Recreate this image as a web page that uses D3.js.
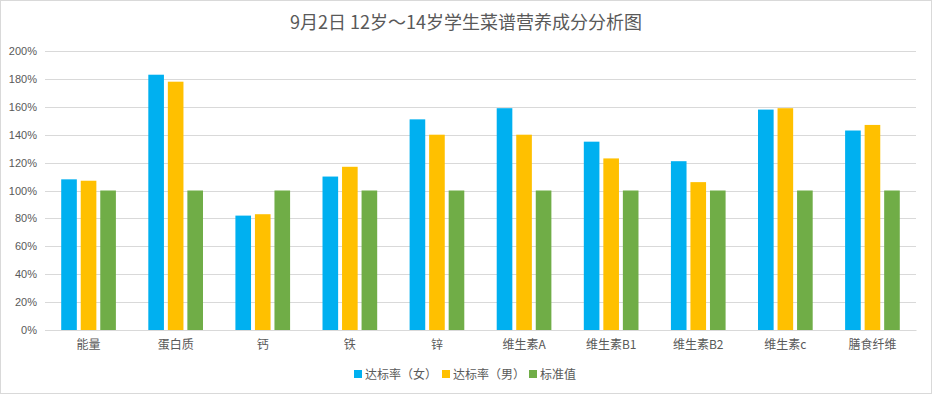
<!DOCTYPE html>
<html>
<head>
<meta charset="utf-8">
<title>9月2日 12岁～14岁学生菜谱营养成分分析图</title>
<script src="https://cdn.jsdelivr.net/npm/d3@7"></script>
<style>
  body { margin: 0; background: #fff; }
  svg { display: block; font-family: "Noto Sans CJK SC", "Noto Sans", sans-serif; }
</style>
</head>
<body>
<svg id="chart" width="932" height="394"></svg>
<script>
// 数据
var categories = ["能量", "蛋白质", "钙", "铁", "锌", "维生素A", "维生素B1", "维生素B2", "维生素c", "膳食纤维"];
var seriesNames = ["达标率（女）", "达标率（男）", "标准值"];
var female = [1.08, 1.83, 0.82, 1.10, 1.51, 1.59, 1.35, 1.21, 1.58, 1.43];
var male = [1.07, 1.78, 0.83, 1.17, 1.40, 1.40, 1.23, 1.06, 1.59, 1.47];
var standard = [1, 1, 1, 1, 1, 1, 1, 1, 1, 1];
var yTicks = [0, 0.2, 0.4, 0.6, 0.8, 1.0, 1.2, 1.4, 1.6, 1.8, 2.0];
var colors = ["#00B0F0", "#FFC000", "#70AD47"];

var svg = d3.select("#chart"),
    width = +svg.attr("width"),
    height = +svg.attr("height");

var margin = {left: 45, right: 16, top: 51, bottom: 64};

// 外框
svg.append("rect")
    .attr("x", 0.5).attr("y", 0.5)
    .attr("width", width - 1).attr("height", height - 1)
    .attr("fill", "#fff").attr("stroke", "#d9d9d9");

// 标题
svg.append("text")
    .attr("x", 466).attr("y", 29)
    .attr("text-anchor", "middle")
    .attr("font-size", 18)
    .attr("fill", "#595959")
    .text("9月2日 12岁～14岁学生菜谱营养成分分析图");

var x = d3.scaleBand()
    .domain(categories)
    .range([margin.left, width - margin.right]);

var x1 = d3.scaleBand()
    .domain([0, 1, 2])
    .range([0, x.bandwidth()])
    .paddingInner(0.2)
    .paddingOuter(0.83);

var y = d3.scaleLinear()
    .domain([0, 2])
    .range([height - margin.bottom, margin.top]);

// 网格线
svg.append("g")
    .selectAll("line")
    .data(yTicks)
    .enter().append("line")
    .attr("x1", margin.left).attr("x2", width - margin.right)
    .attr("y1", function(d) { return Math.round(y(d)) + 0.5; })
    .attr("y2", function(d) { return Math.round(y(d)) + 0.5; })
    .attr("stroke", "#d9d9d9").attr("stroke-width", 1);

// y 轴标签
var yAxis = svg.append("g")
    .attr("transform", "translate(" + margin.left + ",0)")
    .call(d3.axisLeft(y).tickValues(yTicks).tickSize(0).tickPadding(8)
        .tickFormat(function(d) { return Math.round(d * 100) + "%"; }));
yAxis.select(".domain").remove();
yAxis.selectAll("text")
    .attr("font-family", "'Liberation Sans', 'Noto Sans', sans-serif")
    .attr("font-size", 11).attr("fill", "#595959");

// 柱子
var series = [female, male, standard];
var groups = svg.append("g")
    .selectAll("g")
    .data(categories)
    .enter().append("g")
    .attr("transform", function(d) { return "translate(" + x(d) + ",0)"; });

groups.selectAll("rect")
    .data(function(d, i) { return series.map(function(s, k) { return {k: k, v: s[i]}; }); })
    .enter().append("rect")
    .attr("x", function(d) { return x1(d.k); })
    .attr("width", x1.bandwidth())
    .attr("y", function(d) { return y(d.v); })
    .attr("height", function(d) { return y(0) - y(d.v); })
    .attr("fill", function(d) { return colors[d.k]; });

// x 轴
var xAxis = svg.append("g")
    .attr("transform", "translate(0," + y(0) + ")")
    .call(d3.axisBottom(x).tickSize(0).tickPadding(10));
xAxis.select(".domain").attr("stroke", "#d9d9d9");
xAxis.selectAll("text")
    .attr("font-family", "'Noto Sans CJK SC', sans-serif")
    .attr("font-size", 12).attr("fill", "#595959");

// 图例
var legendX = [354, 442, 529];
var legend = svg.append("g")
    .selectAll("g")
    .data(seriesNames)
    .enter().append("g")
    .attr("transform", function(d, i) { return "translate(" + legendX[i] + ",370)"; });
legend.append("rect")
    .attr("width", 8).attr("height", 8)
    .attr("fill", function(d, i) { return colors[i]; });
legend.append("text")
    .attr("x", 11).attr("y", 8.5)
    .attr("font-size", 12).attr("fill", "#595959")
    .text(function(d) { return d; });
</script>
</body>
</html>
